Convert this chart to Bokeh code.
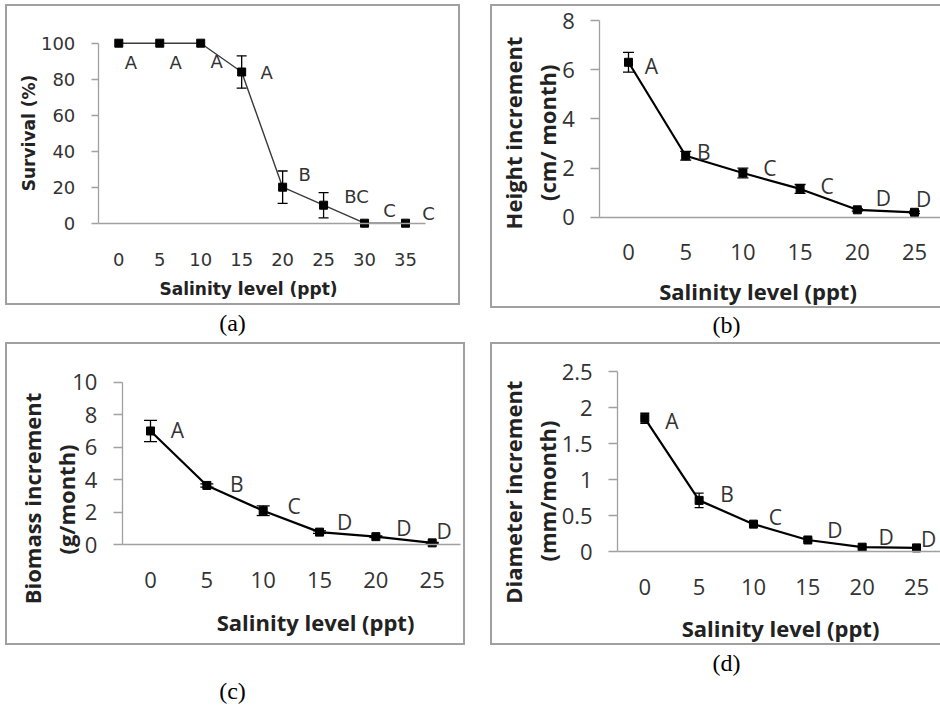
import math
from bokeh.plotting import figure
from bokeh.models import ColumnDataSource, Whisker, TeeHead, FixedTicker, Label, Spacer, Div
from bokeh.layouts import row, column
from bokeh.core.properties import value
from bokeh.embed import file_html
from bokeh.resources import INLINE

# ---------------- data ----------------
salinity_a = [0, 5, 10, 15, 20, 25, 30, 35]
survival = [100, 100, 100, 84, 20, 10, 0, 0]
survival_err = [0, 0, 0, 9, 9, 7, 0, 0]
survival_groups = ["A", "A", "A", "A", "B", "BC", "C", "C"]

salinity = [0, 5, 10, 15, 20, 25]
height_inc = [6.3, 2.5, 1.8, 1.15, 0.3, 0.2]
height_err = [0.4, 0.18, 0.2, 0.18, 0.05, 0.05]
height_groups = ["A", "B", "C", "C", "D", "D"]

biomass_inc = [7.0, 3.65, 2.1, 0.78, 0.5, 0.12]
biomass_err = [0.65, 0.1, 0.3, 0.08, 0.05, 0.03]
biomass_groups = ["A", "B", "C", "D", "D", "D"]

diameter_inc = [1.85, 0.71, 0.38, 0.16, 0.06, 0.05]
diameter_err = [0.07, 0.1, 0.02, 0.02, 0.01, 0.01]
diameter_groups = ["A", "B", "C", "D", "D", "D"]

ticks_a = [0, 20, 40, 60, 80, 100]
ticks_b = [0, 2, 4, 6, 8]
ticks_c = [0, 2, 4, 6, 8, 10]
ticks_d = [0, 0.5, 1, 1.5, 2, 2.5]
tick_labels_a = ["0", "20", "40", "60", "80", "100"]
tick_labels_b = ["0", "2", "4", "6", "8"]
tick_labels_c = ["0", "2", "4", "6", "8", "10"]
tick_labels_d = ["0", "0.5", "1", "1.5", "2", "2.5"]

x_title = "Salinity level (ppt)"
y_title_a = ["Survival (%)"]
y_title_b = ["Height increment", "(cm/ month)"]
y_title_c = ["Biomass increment", "(g/month)"]
y_title_d = ["Diameter increment", "(mm/month)"]
captions = ["(a)", "(b)", "(c)", "(d)"]

# ---------------- styling / placement ----------------
GRAY = "#a0a0a0"
TXT = "#333333"

# pixel offsets of the letter labels (right, down)
off_a = [(12, 19), (16, 19), (16, 18), (25, 0), (22, -13), (33, -9), (25, -13), (23, -10)]
off_b = [(23, 4), (18, -4), (27, -5), (27, -3), (26, -12), (9, -13)]
off_c = [(27, -1), (30, -1), (31, -5), (25, -10), (28, -9), (12, -12)]
off_d = [(27, 3), (28, -6), (22, -7), (27, -10), (24, -10), (12, -9)]

style_a = dict(font="DejaVu Sans", tick_size="18px", title_size="17px", letter_size="18px",
               tick_out=7, x_standoff=30, y_standoff=16, line_color="#3a3a3a", line_w=1.4,
               marker=8)
style_bcd = dict(font="Open Sans", tick_size="22px", title_size="22px", letter_size="21px",
                 tick_out=9, x_standoff=27, y_standoff=16, line_color="black", line_w=2.2,
                 marker=8)


def make_panel(w, h, x_cal, y_cal, x, y, err, groups, offsets, y_ticks, y_tick_labels,
               st, xtitle_pos, ytitles, ytitle_pos, closed, head):
    (xv0, xp0), (xv1, xp1) = x_cal
    (yv0, yp0), (yv1, yp1) = y_cal
    kx = (xp1 - xp0) / (xv1 - xv0)
    ky = (yp0 - yp1) / (yv1 - yv0)
    x_start = xv0 - xp0 / kx
    x_end = xv0 + (w - xp0) / kx
    y_start = yv0 - (h - yp0) / ky
    y_end = yv0 + yp0 / ky

    def px2x(px):
        return xv0 + (px - xp0) / kx

    def px2y(py):
        return yv0 + (yp0 - py) / ky

    if closed:
        shadow = f"inset 0 0 0 2px {GRAY}"
    else:
        shadow = f"inset 2px 0 0 0 {GRAY}, inset 0 2px 0 0 {GRAY}, inset 0 -2px 0 0 {GRAY}"

    p = figure(width=w, height=h, x_range=(x_start, x_end), y_range=(y_start, y_end),
               output_backend="svg", toolbar_location=None,
               min_border=0, min_border_left=0, min_border_right=0,
               min_border_top=0, min_border_bottom=0,
               background_fill_color=None, border_fill_color=None,
               outline_line_color=None, styles={"box-shadow": shadow})
    p.grid.visible = False

    step = x[1] - x[0]
    x_lo = x[0] - step / 2
    x_hi = x[-1] + step / 2
    xa = p.xaxis[0]
    ya = p.yaxis[0]
    xa.fixed_location = 0
    ya.fixed_location = x_lo
    xa.bounds = (x_lo, x_hi)
    ya.bounds = (y_ticks[0], y_ticks[-1])
    xa.ticker = FixedTicker(ticks=x)
    xa.major_label_overrides = {v: str(v) for v in x}
    ya.ticker = FixedTicker(ticks=y_ticks)
    ya.major_label_overrides = dict(zip(y_ticks, y_tick_labels))
    for ax in (xa, ya):
        ax.axis_line_color = GRAY
        ax.axis_line_width = 1.3
        ax.major_tick_line_color = GRAY
        ax.major_tick_line_width = 1.3
        ax.minor_tick_line_color = None
        ax.major_tick_in = 0
        ax.major_label_text_font = st["font"]
        ax.major_label_text_font_size = st["tick_size"]
        ax.major_label_text_color = TXT
    xa.major_tick_out = 0
    xa.major_tick_line_color = None
    ya.major_tick_out = st["tick_out"]
    xa.major_label_standoff = st["x_standoff"]
    ya.major_label_standoff = st["y_standoff"]

    src = ColumnDataSource(dict(x=x, y=y, group=groups,
                                dx=[o[0] for o in offsets], dy=[o[1] for o in offsets]))
    p.line("x", "y", source=src, line_color=st["line_color"], line_width=st["line_w"])
    p.scatter("x", "y", source=src, marker="square", size=st["marker"],
              fill_color="black", line_color="black")

    keep = [i for i, e in enumerate(err) if e > 0]
    wsrc = ColumnDataSource(dict(x=[x[i] for i in keep],
                                 upper=[y[i] + err[i] for i in keep],
                                 lower=[y[i] - err[i] for i in keep]))
    p.add_layout(Whisker(source=wsrc, base="x", upper="upper", lower="lower",
                         line_color="black", line_width=1.3,
                         upper_head=TeeHead(size=head, line_color="black", line_width=1.3),
                         lower_head=TeeHead(size=head, line_color="black", line_width=1.3)))

    p.text("x", "y", text="group", source=src, x_offset="dx", y_offset="dy",
           text_font=value(st["font"]), text_font_size=value(st["letter_size"]),
           text_align="center", text_baseline="middle", text_color=TXT)

    p.add_layout(Label(x=px2x(xtitle_pos[0]), y=px2y(xtitle_pos[1]), text=x_title,
                       text_align="center", text_baseline="middle",
                       text_font=st["font"], text_font_size=st["title_size"],
                       text_font_style="bold", text_color="#222222"))
    for t, (cx, cy) in zip(ytitles, ytitle_pos):
        p.add_layout(Label(x=px2x(cx), y=px2y(cy), text=t, angle=math.pi / 2,
                           text_align="center", text_baseline="middle",
                           text_font=st["font"], text_font_size=st["title_size"],
                           text_font_style="bold", text_color="#222222"))
    return p


pa = make_panel(455, 301, ((0, 113.3), (35, 400)), ((0, 218.7), (100, 38.7)),
                salinity_a, survival, survival_err, survival_groups, off_a,
                ticks_a, tick_labels_a, style_a, (243, 284), y_title_a, [(23, 128.5)],
                True, 10)
pb = make_panel(450, 304, ((0, 138), (25, 424)), ((0, 212.7), (8, 16)),
                salinity, height_inc, height_err, height_groups, off_b,
                ticks_b, tick_labels_b, style_bcd, (267.5, 286.5), y_title_b,
                [(22, 128.5), (56, 128.3)], False, 11)
pc = make_panel(460, 303, ((0, 145), (25, 426.7)), ((0, 202.3), (10, 39.7)),
                salinity, biomass_inc, biomass_err, biomass_groups, off_c,
                ticks_c, tick_labels_c, style_bcd, (310, 279), y_title_c,
                [(26, 156), (60, 157)], True, 13)
pd_ = make_panel(450, 303, ((0, 154.3), (25, 426)), ((0, 209), (2.5, 29)),
                 salinity, diameter_inc, diameter_err, diameter_groups, off_d,
                 ticks_d, tick_labels_d, style_bcd, (290, 285.5), y_title_d,
                 [(22.5, 149.7), (56.7, 148.5)], False, 9)


def caption(text, w, h, pad_left=0):
    html = (f'<div style="width:{w}px;height:{h}px;box-sizing:border-box;padding-left:{pad_left}px;'
            f'text-align:center;font-family:\'Liberation Serif\';font-size:24px;'
            f'line-height:{h}px;color:#000">{text}</div>')
    return Div(text=html, width=w, height=h, margin=(0, 0, 0, 0))


left_col = column(Spacer(width=5, height=4, margin=(0, 0, 0, 0)), pa,
                  caption(captions[0], 455, 37), pc,
                  Spacer(width=5, height=31, margin=(0, 0, 0, 0)),
                  caption(captions[2], 455, 31))
right_col = column(Spacer(width=5, height=4, margin=(0, 0, 0, 0)), pb,
                   caption(captions[1], 450, 34, 23), pd_,
                   caption(captions[3], 450, 37, 23))
root = row(Spacer(width=5, height=10, margin=(0, 0, 0, 0)), left_col,
           Spacer(width=25, height=10, margin=(0, 0, 0, 0)), right_col)

open("out.html", "w").write(file_html(root, INLINE))
